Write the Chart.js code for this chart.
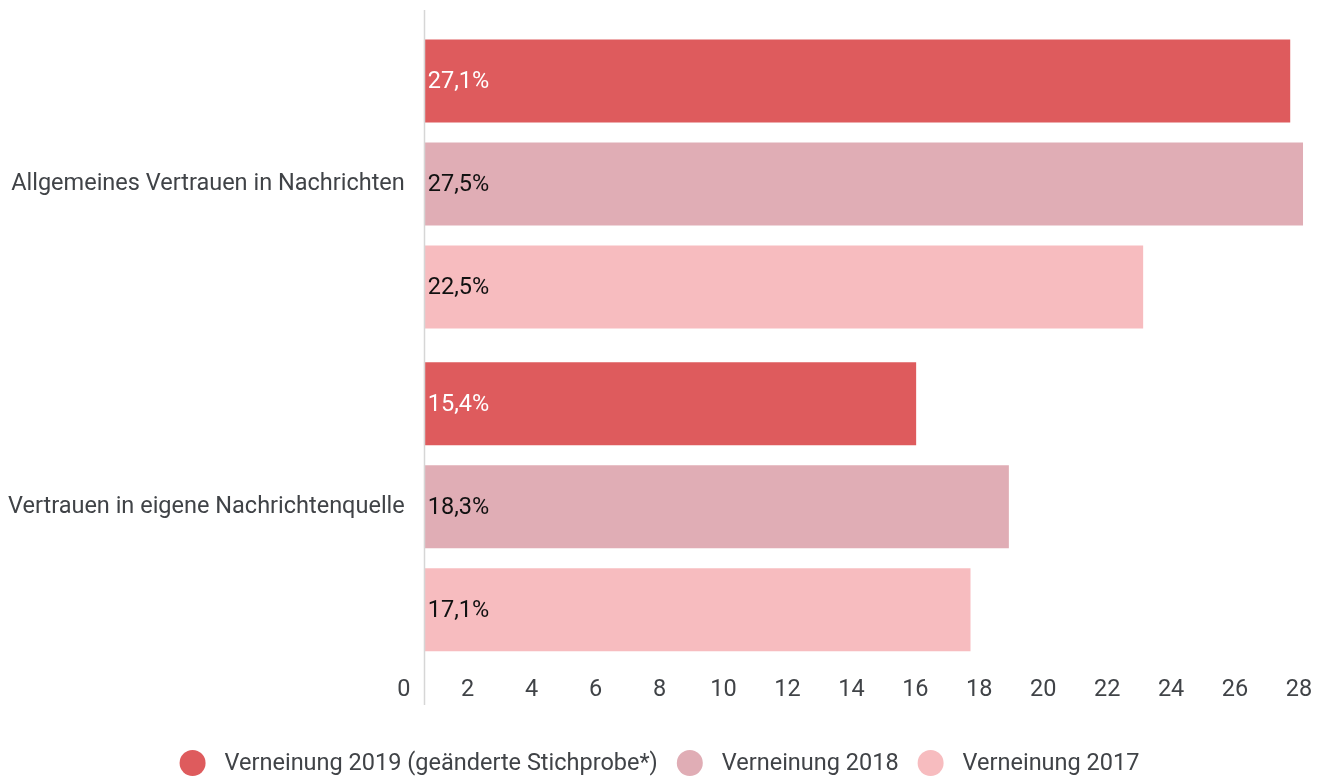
<!DOCTYPE html>
<html lang="de">
<head>
<meta charset="utf-8">
<title>Verneinung Vertrauen in Nachrichten</title>
<script src="https://cdn.jsdelivr.net/npm/chart.js@4/dist/chart.umd.min.js"></script>
<style>
  html, body { margin: 0; padding: 0; background: #fff; }
  #wrap { width: 1319px; height: 778px; }
</style>
</head>
<body>
<div id="wrap"><canvas id="grafico"></canvas></div>
<script>
const kategorien = ['Allgemeines Vertrauen in Nachrichten', 'Vertrauen in eigene Nachrichtenquelle'];
const serien = ['Verneinung 2019 (geänderte Stichprobe*)', 'Verneinung 2018', 'Verneinung 2017'];
const werte2019 = [27.1, 15.4];
const werte2018 = [27.5, 18.3];
const werte2017 = [22.5, 17.1];
const farben = ['#de5b5d', '#e0adb5', '#f7bcbf'];
const textFarben = ['#ffffff', '#111111', '#111111'];

const schrift = 'Roboto, "Noto Sans", sans-serif';
const groesse = 23.5;
const grau = '#404347';

const fmt = v => v.toFixed(1).replace('.', ',') + '%';

// linke Achse (bei 0) über die ganze Höhe, Werte in den Balken, Legende unten
const extras = {
    id: 'extras',
    afterDatasetsDraw(chart) {
        const ctx = chart.ctx;
        const x = chart.scales.x;
        const x0 = Math.round(x.getPixelForValue(0)) + 0.5;

        ctx.save();
        ctx.strokeStyle = '#d6d6d6';
        ctx.lineWidth = 1.5;
        ctx.beginPath();
        ctx.moveTo(x0, 10);
        ctx.lineTo(x0, 705);
        ctx.stroke();

        ctx.font = groesse + 'px ' + schrift;
        ctx.textBaseline = 'middle';
        ctx.textAlign = 'left';
        chart.data.datasets.forEach((ds, i) => {
            chart.getDatasetMeta(i).data.forEach((bar, j) => {
                ctx.fillStyle = textFarben[i];
                ctx.fillText(fmt(ds.data[j]), bar.base + 4, bar.y + 1);
            });
        });

        // Legende: Kreis, 32px bis zum Text, 32px bis zum nächsten Kreismittelpunkt
        const r = 13, abstand = 32;
        const breiten = chart.data.datasets.map(ds => ctx.measureText(ds.label).width);
        let gesamt = r;
        breiten.forEach((b, i) => { gesamt += abstand + b + (i < breiten.length - 1 ? abstand : 0); });
        let mx = (chart.width - gesamt) / 2 + r;
        const ly = 763;
        chart.data.datasets.forEach((ds, i) => {
            ctx.fillStyle = ds.backgroundColor;
            ctx.beginPath();
            ctx.arc(mx, ly, r, 0, Math.PI * 2);
            ctx.fill();
            ctx.fillStyle = grau;
            ctx.fillText(ds.label, mx + abstand, ly + 1);
            mx += abstand + breiten[i] + abstand;
        });
        ctx.restore();
    }
};

new Chart(document.getElementById('grafico'), {
    type: 'bar',
    data: {
        labels: kategorien,
        datasets: [
            { label: serien[0], data: werte2019, backgroundColor: farben[0] },
            { label: serien[1], data: werte2018, backgroundColor: farben[1] },
            { label: serien[2], data: werte2017, backgroundColor: farben[2] }
        ]
    },
    options: {
        indexAxis: 'y',
        responsive: true,
        maintainAspectRatio: false,
        animation: false,
        categoryPercentage: 0.957,
        barPercentage: 0.806,
        layout: { padding: { top: 22.5, right: -4, bottom: 65.5, left: -11 } },
        scales: {
            x: {
                min: 0,
                max: 28,
                border: { display: false },
                grid: { display: false, drawTicks: false },
                afterFit: s => { s.paddingLeft = 0; s.paddingRight = 0; },
                ticks: {
                    stepSize: 2,
                    padding: 8,
                    labelOffset: -20,
                    color: grau,
                    font: { family: schrift, size: groesse }
                }
            },
            y: {
                border: { display: false },
                grid: { display: false, drawTicks: false },
                afterFit: s => { s.paddingTop = 0; s.paddingBottom = 0; },
                ticks: {
                    padding: 19,
                    color: grau,
                    font: { family: schrift, size: groesse }
                }
            }
        },
        plugins: {
            legend: { display: false },
            tooltip: { enabled: false }
        }
    },
    plugins: [extras]
});
</script>
</body>
</html>
